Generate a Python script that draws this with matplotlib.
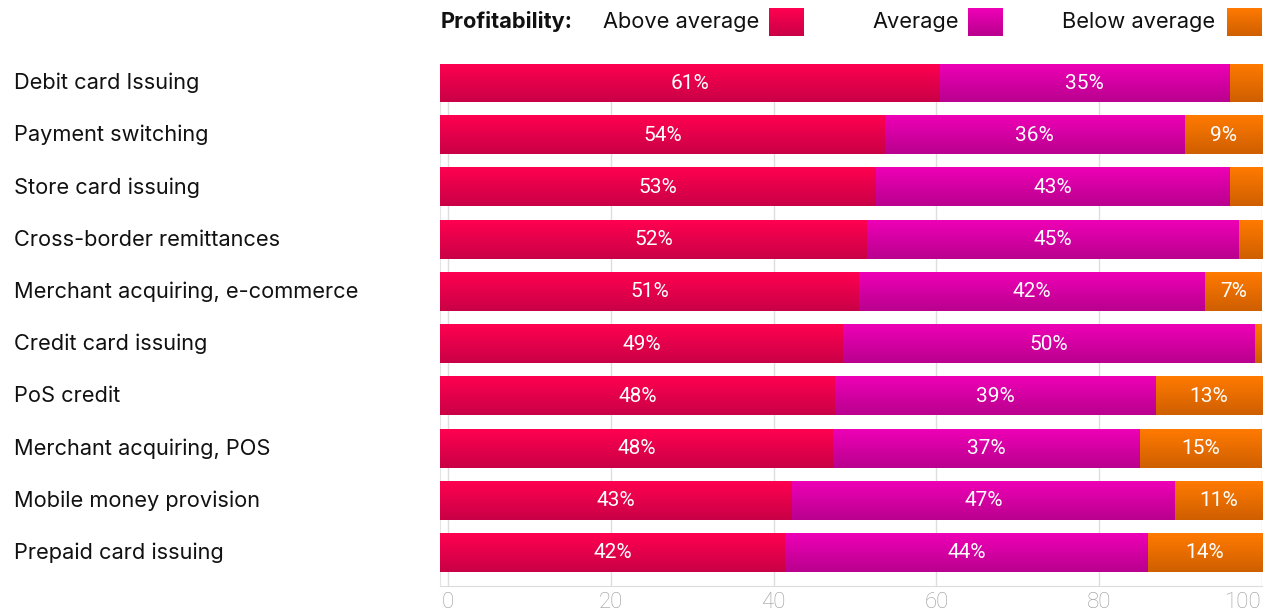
import matplotlib
matplotlib.use("Agg")
import matplotlib.pyplot as plt
import matplotlib.transforms as mtransforms
import numpy as np
from matplotlib.colors import LinearSegmentedColormap

# Share of respondents rating each business line's profitability
categories = [
    "Debit card Issuing",
    "Payment switching",
    "Store card issuing",
    "Cross-border remittances",
    "Merchant acquiring, e-commerce",
    "Credit card issuing",
    "PoS credit",
    "Merchant acquiring, POS",
    "Mobile money provision",
    "Prepaid card issuing",
]
above_average = [60.8, 54.1, 53.1, 52.0, 51.0, 49.0, 48.0, 47.8, 42.8, 42.0]
average = [35.3, 36.5, 43.0, 45.2, 42.1, 50.2, 39.1, 37.4, 46.6, 44.1]
below_average = [3.9, 9.4, 3.9, 2.8, 6.9, 0.8, 12.9, 14.8, 10.6, 13.9]
series_names = ["Above average", "Average", "Below average"]
x_ticks = [0, 20, 40, 60, 80, 100]

# (top colour, bottom colour) of the vertical gradient for each series
gradients = [
    ("#ff0050", "#c90046"),
    ("#ee00b6", "#b9008e"),
    ("#ff7a00", "#cf5f00"),
]

W, H = 1275, 616
fig = plt.figure(figsize=(W / 100, H / 100), dpi=100)
fig.patch.set_facecolor("white")

LABEL_FONT = ["Inter", "DejaVu Sans"]
NUM_FONT = ["Roboto", "DejaVu Sans"]

rect = [440 / W, 1 - 586 / H, 822 / W, (586 - 64) / H]

# Background axes carrying the value scale and gridlines
gx = fig.add_axes(rect, zorder=0)
gx.set_xlim(-0.98, 100)
gx.set_ylim(0, 1)
gx.set_xticks(x_ticks)
gx.set_yticks([])
gx.grid(axis="x", color="#dedede", linewidth=1)
for side in ("top", "right"):
    gx.spines[side].set_visible(False)
gx.spines["left"].set_color("#e4e4e4")
gx.spines["bottom"].set_color("#dcdcdc")
gx.tick_params(axis="x", length=0, pad=4, labelsize=16, labelcolor="#9b9b9b")
for lab in gx.get_xticklabels():
    lab.set_fontfamily(NUM_FONT)
    lab.set_fontweight("light")
gx.get_xticklabels()[-1].set_horizontalalignment("right")

# Foreground axes with the stacked bars
ax = fig.add_axes(rect, zorder=1)
ax.patch.set_alpha(0)
ax.set_xlim(0, 100)
y = np.arange(len(categories))
bar_h = 0.728

series = [above_average, average, below_average]
left = np.zeros(len(categories))
for vals, (c_top, c_bot) in zip(series, gradients):
    vals = np.asarray(vals)
    bars = ax.barh(y, vals, left=left, height=bar_h, color=c_bot, linewidth=0)
    cmap = LinearSegmentedColormap.from_list("g", [c_top, c_bot])
    grad = np.linspace(0, 1, 64).reshape(-1, 1)
    for p, v in zip(bars.patches, vals):
        x0, y0, w, h = p.get_x(), p.get_y(), p.get_width(), p.get_height()
        ax.imshow(grad, cmap=cmap, aspect="auto", origin="upper",
                  extent=(x0, x0 + w, y0 + h, y0), interpolation="bilinear",
                  zorder=2)
        if v >= 5:
            ax.text(x0 + w / 2, y0 + h / 2, f"{v:.0f}%", ha="center",
                    va="center", color="white", fontsize=15,
                    family=NUM_FONT, zorder=3)
    left = left + vals

ax.set_xlim(0, 100)
ax.set_ylim(len(categories) - 1 + 0.632, -0.364)
ax.axis("off")

# Category labels, left-aligned at the figure's left margin
trans = mtransforms.blended_transform_factory(fig.transFigure, ax.transData)
for yi, name in zip(y, categories):
    ax.text(14 / W, yi, name, transform=trans, ha="left", va="center",
            fontsize=15.7, family=LABEL_FONT, color="#111111", clip_on=False)

# Legend row
ly = 1 - 22 / H
fig.text(441 / W, ly, "Profitability:", ha="left", va="center", fontsize=15.7,
         family=LABEL_FONT, fontweight="bold", color="#111111")
legend_text_x = [603, 872, 1062]
legend_box_x = [769, 968, 1227]
for name, tx, bx, (c_top, c_bot) in zip(series_names, legend_text_x,
                                         legend_box_x, gradients):
    fig.text(tx / W, ly, name, ha="left", va="center", fontsize=15.7,
             family=LABEL_FONT, color="#111111")
    bax = fig.add_axes([bx / W, 1 - 36 / H, 35 / W, 28 / H])
    cmap = LinearSegmentedColormap.from_list("g", [c_top, c_bot])
    bax.imshow(np.linspace(0, 1, 32).reshape(-1, 1), cmap=cmap,
               aspect="auto", interpolation="bilinear")
    bax.axis("off")

fig.savefig("out.png", dpi=100)
